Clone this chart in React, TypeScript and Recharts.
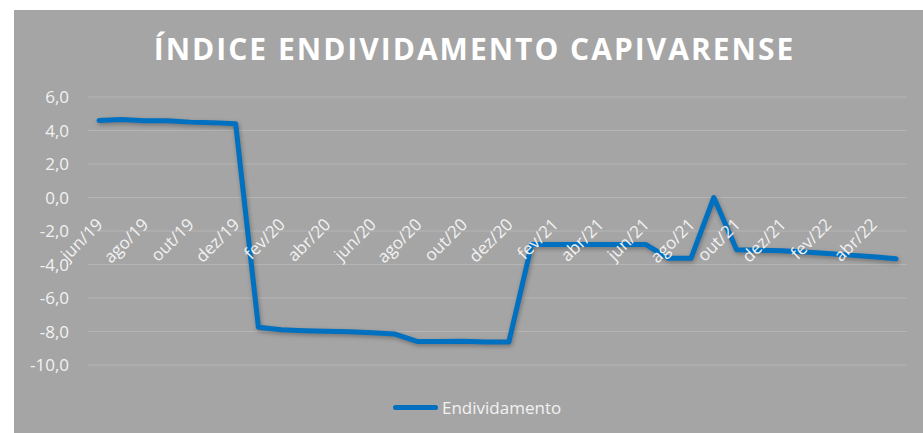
import { LineChart, Line, XAxis, YAxis, CartesianGrid, Legend } from "recharts";

const months = [
  "jun/19", "jul/19", "ago/19", "set/19", "out/19", "nov/19", "dez/19",
  "jan/20", "fev/20", "mar/20", "abr/20", "mai/20", "jun/20", "jul/20", "ago/20", "set/20", "out/20", "nov/20", "dez/20",
  "jan/21", "fev/21", "mar/21", "abr/21", "mai/21", "jun/21", "jul/21", "ago/21", "set/21", "out/21", "nov/21", "dez/21",
  "jan/22", "fev/22", "mar/22", "abr/22", "mai/22",
];

const endividamento = [
  4.6, 4.65, 4.58, 4.58, 4.5, 4.47, 4.4,
  -7.75, -7.9, -7.95, -7.98, -8.02, -8.08, -8.15, -8.6, -8.6, -8.58, -8.62, -8.62,
  -2.8, -2.8, -2.8, -2.8, -2.8, -2.8, -3.62, -3.62, 0.0, -3.12, -3.15, -3.18,
  -3.26, -3.34, -3.44, -3.54, -3.66,
];

const yTicks = [-10, -8, -6, -4, -2, 0, 2, 4, 6];

const data = months.map((m, i) => ({ mes: m, Endividamento: endividamento[i] }));

const W = 909;
const H = 423;
const MARGIN = { top: 87, right: 16, bottom: 14, left: 0 };
const PLOT_H = 268;
const Y_MIN = -10;
const Y_MAX = 6;
const ZERO_Y = MARGIN.top + (PLOT_H * (Y_MAX - 0)) / (Y_MAX - Y_MIN);

const FONT = "'Open Sans', sans-serif";
const BLUE = "#0070C0";

const fmt = (v: number) => v.toFixed(1).replace(".", ",");

// labels sit on the zero line, like Excel's axis crossing at 0
const MonthTick = ({ x, payload }: any) => (
  <text
    x={x + 5}
    y={ZERO_Y + 28}
    transform={`rotate(-45 ${x + 5} ${ZERO_Y + 28})`}
    textAnchor="end"
    fill="#f2f2f2"
    fontSize={17}
    fontFamily={FONT}
  >
    {payload.value}
  </text>
);

const LegendContent = () => (
  <div style={{ display: "flex", alignItems: "center", height: 24, paddingLeft: 379, fontFamily: FONT, fontSize: 17, color: "#f2f2f2" }}>
    <span style={{ display: "inline-block", width: 45, height: 5, borderRadius: 3, background: BLUE, marginRight: 4 }} />
    Endividamento
  </div>
);

export default function App() {
  return (
    <div style={{ position: "absolute", left: 14, top: 10, width: W, height: H, background: "#a5a5a5" }}>
      <style>{`.recharts-line-curve { filter: drop-shadow(1px 2px 2px rgba(0,0,0,0.3)); }`}</style>
      <div
        style={{
          position: "absolute", left: 0, top: 18, width: 921, textAlign: "center",
          fontFamily: FONT, fontWeight: 700, fontSize: 30, letterSpacing: 2, color: "#ffffff",
        }}
      >
        ÍNDICE ENDIVIDAMENTO CAPIVARENSE
      </div>
      <LineChart width={W} height={H} data={data} margin={MARGIN}>
        <CartesianGrid vertical={false} stroke="#b5b5b5" strokeWidth={1} />
        <XAxis
          dataKey="mes"
          interval={1}
          height={30}
          axisLine={false}
          tickLine={false}
          padding={{ left: 11, right: 11 }}
          tick={<MonthTick />}
        />
        <YAxis
          domain={[Y_MIN, Y_MAX]}
          ticks={yTicks}
          width={74}
          axisLine={false}
          tickLine={false}
          tickSize={0}
          tickMargin={19}
          tickFormatter={fmt}
          tick={{ fill: "#f2f2f2", fontSize: 17, fontFamily: FONT }}
        />
        <Legend verticalAlign="bottom" content={<LegendContent />} />
        <Line
          type="linear"
          dataKey="Endividamento"
          stroke={BLUE}
          strokeWidth={5}
          strokeLinejoin="round"
          strokeLinecap="round"
          dot={false}
          isAnimationActive={false}
        />
      </LineChart>
    </div>
  );
}
